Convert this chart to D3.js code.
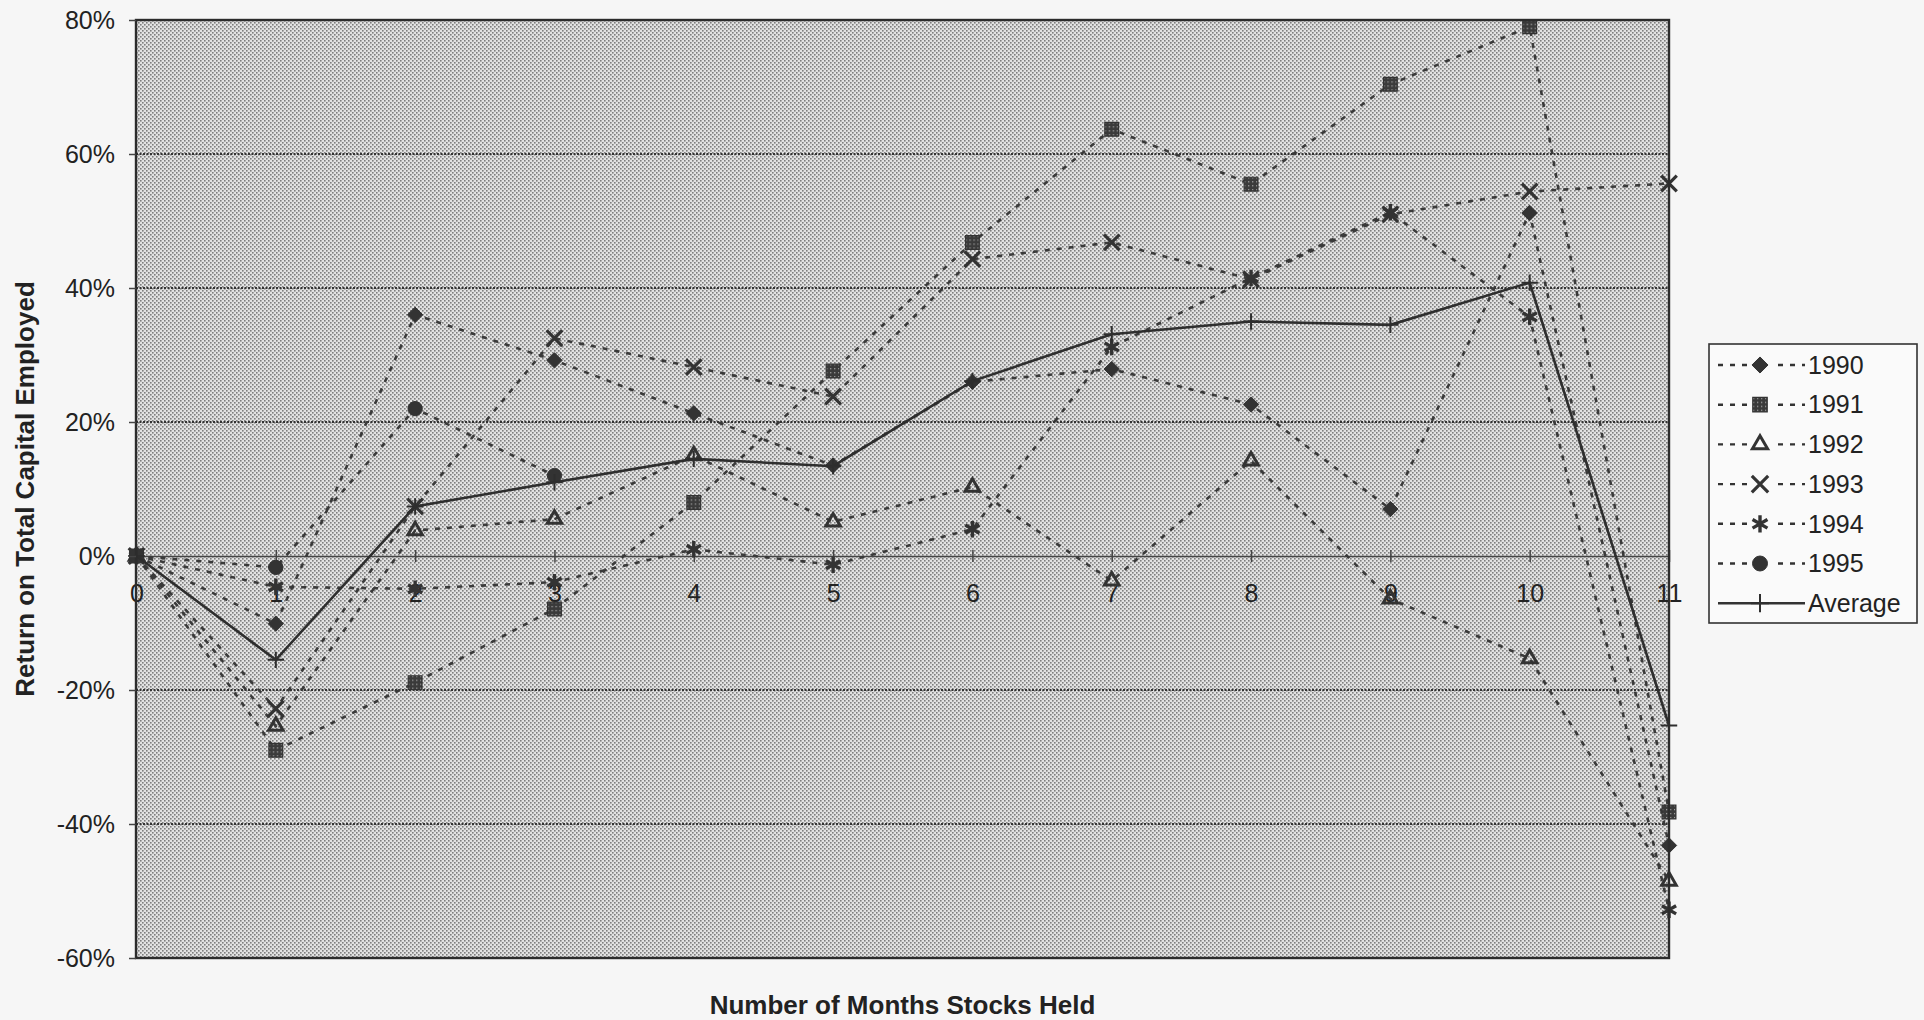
<!DOCTYPE html>
<html>
<head>
<meta charset="utf-8">
<script src="https://cdn.jsdelivr.net/npm/d3@7"></script>
<style>
  html, body { margin: 0; padding: 0; background: #f6f6f6; }
  svg { display: block; }
  text { font-family: "Liberation Sans", Arial, sans-serif; fill: #222; }
</style>
</head>
<body>
<svg id="chart" width="1924" height="1020"></svg>
<script>
// ---------------- data ----------------
const months = [0, 1, 2, 3, 4, 5, 6, 7, 8, 9, 10, 11];
const yTicks = [-60, -40, -20, 0, 20, 40, 60, 80];
const gridValues = [-40, -20, 20, 40, 60];
const seriesNames = ["1990", "1991", "1992", "1993", "1994", "1995"];
const s1990 = [0, -10.1, 36.0, 29.2, 21.3, 13.5, 26.0, 27.9, 22.6, 7.0, 51.2, -43.2];
const s1991 = [0, -29.0, -18.9, -7.9, 8.0, 27.6, 46.8, 63.7, 55.5, 70.4, 79.0, -38.2];
const s1992 = [0, -25.4, 3.8, 5.5, 15.0, 5.1, 10.3, -3.7, 14.2, -6.4, -15.3, -48.5];
const s1993 = [0, -22.8, 7.4, 32.5, 28.2, 23.8, 44.3, 46.8, 41.3, 51.0, 54.4, 55.6];
const s1994 = [0, -4.6, -4.9, -3.9, 1.0, -1.3, 4.0, 31.2, 41.5, 51.3, 35.7, -52.8];
const s1995 = [0, -1.7, 22.0, 12.0, null, null, null, null, null, null, null, null];
const average = [0, -15.5, 7.4, 11.0, 14.5, 13.4, 26.1, 33.1, 35.0, 34.5, 40.8, -25.3];
const seriesValues = [s1990, s1991, s1992, s1993, s1994, s1995];
const yTitle = "Return on Total Capital Employed";
const xTitle = "Number of Months Stocks Held";

// ---------------- layout ----------------
const svg = d3.select("#chart");
const P = { left: 136, right: 1669, top: 20, bottom: 958 };
const x = d3.scaleLinear().domain([0, 11]).range([P.left + 0.5, P.right]);
const y = d3.scaleLinear().domain([-60, 80]).range([P.bottom, P.top]);
const ink = "#333";

const defs = svg.append("defs");
const pat = defs.append("pattern").attr("id", "halftone")
  .attr("patternUnits", "userSpaceOnUse").attr("width", 4).attr("height", 4);
pat.append("rect").attr("width", 4).attr("height", 4).attr("fill", "#e2e2e2");
pat.append("rect").attr("x", 0).attr("y", 0).attr("width", 1.6).attr("height", 1.6).attr("fill", "#7e7e7e");
pat.append("rect").attr("x", 2).attr("y", 2).attr("width", 1.6).attr("height", 1.6).attr("fill", "#7e7e7e");

const sq = defs.append("pattern").attr("id", "sqdots")
  .attr("patternUnits", "userSpaceOnUse").attr("width", 4).attr("height", 4);
sq.append("rect").attr("width", 4).attr("height", 4).attr("fill", "#3a3a3a");
sq.append("rect").attr("x", 1).attr("y", 1).attr("width", 1.3).attr("height", 1.3).attr("fill", "#a0a0a0");

// page background
svg.append("rect").attr("width", 1924).attr("height", 1020).attr("fill", "#f6f6f6");

// plot area
svg.append("rect")
  .attr("x", P.left).attr("y", P.top)
  .attr("width", P.right - P.left).attr("height", P.bottom - P.top)
  .attr("fill", "url(#halftone)");

// gridlines
svg.append("g").selectAll("line").data(gridValues).join("line")
  .attr("x1", P.left).attr("x2", P.right)
  .attr("y1", d => y(d)).attr("y2", d => y(d))
  .attr("stroke", "#333").attr("stroke-width", 1.8)
  .attr("stroke-dasharray", "2,1.5");

// x axis at zero
const xAxis = svg.append("g")
  .attr("transform", `translate(0,${y(0)})`)
  .call(d3.axisBottom(x).tickValues(months).tickSizeInner(6).tickSizeOuter(0).tickPadding(22));
xAxis.select(".domain").attr("stroke", "#444").attr("stroke-width", 1.5);
xAxis.selectAll(".tick line").attr("y1", -6).attr("stroke", "#444").attr("stroke-width", 1.5);
xAxis.selectAll(".tick text")
  .attr("font-family", "Liberation Sans, Arial, sans-serif")
  .attr("font-size", 25).attr("fill", "#2a2a2a");

// series lines (drawn through the available points)
const line = d3.line().x(d => x(d[0])).y(d => y(d[1]));
const pts = vals => months.map((m, i) => [m, vals[i]]).filter(p => p[1] !== null);
const gSeries = svg.append("g");
seriesValues.forEach(vals => {
  gSeries.append("path").datum(pts(vals))
    .attr("d", line)
    .attr("fill", "none")
    .attr("stroke", "#3a3a3a")
    .attr("stroke-width", 2.6)
    .attr("stroke-dasharray", "5,7");
});

// marker definitions
const markerDefs = [
  { type: d3.symbolDiamond2, size: 150, fill: ink, stroke: ink, sw: 1 },
  { type: d3.symbolSquare, size: 190, fill: "url(#sqdots)", stroke: ink, sw: 1.2 },
  { type: d3.symbolTriangle2, size: 150, fill: "none", stroke: ink, sw: 3 },
  { type: d3.symbolTimes, size: 160, fill: "none", stroke: ink, sw: 3.2 },
  { type: d3.symbolAsterisk, size: 190, fill: "none", stroke: ink, sw: 3.4 },
  { type: d3.symbolCircle, size: 160, fill: ink, stroke: ink, sw: 1 }
];

function drawMarker(g, m, cx, cy, scale) {
  g.append("path")
    .attr("d", d3.symbol().type(m.type).size(m.size * (scale || 1))())
    .attr("transform", `translate(${cx},${cy})`)
    .attr("fill", m.fill)
    .attr("stroke", m.stroke)
    .attr("stroke-width", m.sw)
    .attr("stroke-linejoin", "miter");
}

const gMarkers = svg.append("g");
seriesValues.forEach((vals, si) => {
  pts(vals).forEach(p => drawMarker(gMarkers, markerDefs[si], x(p[0]), y(p[1])));
});

// average line
svg.append("path").datum(pts(average))
  .attr("d", line)
  .attr("fill", "none")
  .attr("stroke", "#2e2e2e")
  .attr("stroke-width", 2.6);
const gAvg = svg.append("g");
pts(average).forEach(p => {
  gAvg.append("path")
    .attr("d", d3.symbol().type(d3.symbolPlus).size(90)())
    .attr("transform", `translate(${x(p[0])},${y(p[1])})`)
    .attr("fill", "none").attr("stroke", "#2e2e2e").attr("stroke-width", 2);
});

// plot border
svg.append("rect")
  .attr("x", P.left).attr("y", P.top)
  .attr("width", P.right - P.left).attr("height", P.bottom - P.top)
  .attr("fill", "none").attr("stroke", "#2c2c2c").attr("stroke-width", 2.4);

// y axis
const yAxis = svg.append("g")
  .attr("transform", `translate(${P.left},0)`)
  .call(d3.axisLeft(y).tickValues(yTicks).tickSize(7).tickPadding(14).tickFormat(d => d + "%"));
yAxis.select(".domain").remove();
yAxis.selectAll(".tick line").attr("stroke", "#444").attr("stroke-width", 1.5);
yAxis.selectAll(".tick text")
  .attr("font-family", "Liberation Sans, Arial, sans-serif")
  .attr("font-size", 25).attr("fill", "#222");

// axis titles
svg.append("text")
  .attr("transform", `translate(34,${(P.top + P.bottom) / 2}) rotate(-90)`)
  .attr("text-anchor", "middle")
  .attr("font-size", 26).attr("font-weight", "bold")
  .text(yTitle);
svg.append("text")
  .attr("x", (P.left + P.right) / 2).attr("y", 1014)
  .attr("text-anchor", "middle")
  .attr("font-size", 26).attr("font-weight", "bold")
  .text(xTitle);

// legend
const L = { x: 1709, y: 344, w: 208, h: 279 };
const gLeg = svg.append("g");
gLeg.append("rect")
  .attr("x", L.x).attr("y", L.y).attr("width", L.w).attr("height", L.h)
  .attr("fill", "#fafafa").attr("stroke", "#333").attr("stroke-width", 1.6);
const legNames = seriesNames.concat(["Average"]);
legNames.forEach((name, i) => {
  const cy = 365 + i * 39.7;
  const isAvg = i === seriesNames.length;
  gLeg.append("line")
    .attr("x1", 1718).attr("x2", 1805).attr("y1", cy).attr("y2", cy)
    .attr("stroke", "#333").attr("stroke-width", 2.4)
    .attr("stroke-dasharray", isAvg ? null : "5,7");
  if (isAvg) {
    gLeg.append("path")
      .attr("d", d3.symbol().type(d3.symbolPlus).size(110)())
      .attr("transform", `translate(1760,${cy})`)
      .attr("fill", "none").attr("stroke", "#2e2e2e").attr("stroke-width", 2);
  } else {
    gLeg.append("rect").attr("x", 1748).attr("y", cy - 11).attr("width", 24).attr("height", 22).attr("fill", "#fafafa");
    drawMarker(gLeg, markerDefs[i], 1760, cy, 1.1);
  }
  gLeg.append("text")
    .attr("x", 1808).attr("y", cy).attr("dy", "0.35em")
    .attr("font-size", 25).attr("fill", "#222")
    .text(name);
});
</script>
</body>
</html>
